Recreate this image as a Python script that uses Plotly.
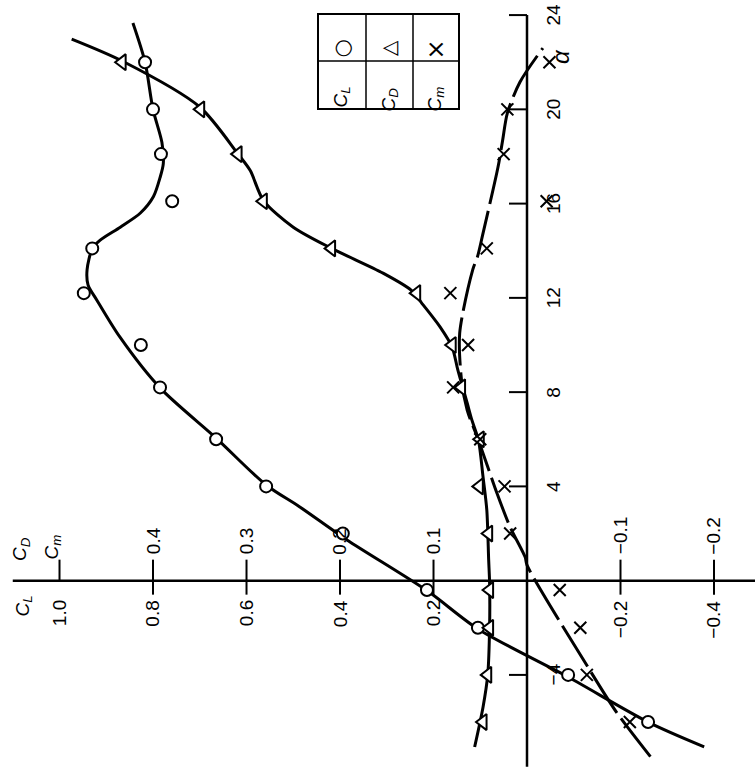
import plotly.graph_objects as go

# Measured points: angle of attack (deg) and coefficients
alpha = [-6, -4, -2, -0.4, 2, 4, 6, 8.2, 10, 12.2, 14.1, 16.1, 18.1, 20, 22]
cl = [-0.259, -0.088, 0.105, 0.214, 0.394, 0.558, 0.665, 0.785, 0.826, 0.948,
      0.930, 0.759, 0.783, 0.800, 0.817]
cd = [0.047, 0.042, 0.040, 0.040, 0.041, 0.051, 0.050, 0.070, 0.080, 0.118,
      0.209, 0.282, 0.309, 0.349, 0.433]
cm = [-0.110, -0.064, -0.057, -0.035, 0.018, 0.024, 0.050, 0.079, 0.063, 0.082,
      0.043, -0.021, 0.025, 0.021, -0.024]

# Faired curves
cl_fit_alpha = [-7.05, -6.0, -4.09, -2.05, -0.42, 1.73, 3.13, 4.06, 6.05, 8.18,
                10.34, 11.9, 12.55, 13.2, 14.08, 14.45, 15.0, 15.6, 16.3, 17.1,
                17.7, 18.6, 20.0, 22.0, 23.66]
cl_fit = [-0.379, -0.259, -0.088, 0.105, 0.214, 0.385, 0.486, 0.558, 0.665, 0.785,
          0.871, 0.920, 0.939, 0.941, 0.930, 0.913, 0.870, 0.827, 0.799, 0.785,
          0.778, 0.781, 0.800, 0.817, 0.843]

cd_fit_alpha = [-7.06, -5.36, -4.0, -1.97, -0.1, 0.88, 3.0, 4.4, 5.97, 6.82, 7.54,
                8.94, 9.9, 10.77, 11.8, 12.33, 13.05, 14.1, 15.0, 16.14, 17.4,
                18.1, 20.1, 22.05, 22.98]
cd_fit = [0.056, 0.047, 0.042, 0.040, 0.040, 0.041, 0.043, 0.047, 0.052, 0.059,
          0.064, 0.074, 0.080, 0.093, 0.113, 0.124, 0.154, 0.209, 0.250, 0.282,
          0.296, 0.309, 0.350, 0.433, 0.487]

cm_fit_alpha = [-7.47, -5.6, -3.66, 0.66, 1.0, 2.27, 3.7, 5.97, 7.24, 8.5, 10.5,
                13.2, 13.74, 14.75, 17.55, 18.7, 19.84, 21.16, 22.6]
cm_fit = [-0.132, -0.096, -0.065, 0.0, 0.002, 0.018, 0.032, 0.052, 0.064, 0.070,
          0.072, 0.058, 0.053, 0.047, 0.031, 0.026, 0.021, 0.0075, -0.017]

# Tick values
alpha_ticks = [-4, 4, 8, 12, 16, 20, 24]
alpha_labels = ["\u22124", "4", "8", "12", "16", "20", "24"]
cl_ticks = [1.0, 0.8, 0.6, 0.4, 0.2, -0.2, -0.4]
cl_labels = ["1.0", "0.8", "0.6", "0.4", "0.2", "\u22120.2", "\u22120.4"]
cdm_ticks = [0.4, 0.3, 0.2, 0.1, -0.1, -0.2]
cdm_labels = ["0.4", "0.3", "0.2", "0.1", "\u22120.1", "\u22120.2"]

W, H = 755, 772
FONT = "Liberation Sans"
INK = "black"

# Axis ranges (figure is drawn turned a quarter turn: alpha runs upward,
# coefficients increase to the left)
cl_range = [1.1273, -0.4877]
cdm_range = [cl_range[0] / 2, cl_range[1] / 2]
alpha_range = [-8.12, 24.64]

fig = go.Figure()

line_style = dict(color=INK, width=3, shape="spline", smoothing=0.8)
fig.add_trace(go.Scatter(x=cl_fit, y=cl_fit_alpha, mode="lines", line=line_style,
                         xaxis="x", yaxis="y", hoverinfo="skip"))
fig.add_trace(go.Scatter(x=cd_fit, y=cd_fit_alpha, mode="lines", line=line_style,
                         xaxis="x2", yaxis="y", hoverinfo="skip"))
fig.add_trace(go.Scatter(x=cm_fit, y=cm_fit_alpha, mode="lines",
                         line=dict(color=INK, width=3, shape="spline", smoothing=0.8,
                                   dash="48px,7px"),
                         xaxis="x2", yaxis="y", hoverinfo="skip"))

fig.add_trace(go.Scatter(x=cl, y=alpha, mode="markers", name="CL",
                         marker=dict(symbol="circle", size=12, color="white",
                                     line=dict(color=INK, width=2)),
                         xaxis="x", yaxis="y"))
fig.add_trace(go.Scatter(x=cd, y=alpha, mode="markers", name="CD",
                         marker=dict(symbol="triangle-left", size=14, color="white",
                                     line=dict(color=INK, width=2)),
                         xaxis="x2", yaxis="y"))
fig.add_trace(go.Scatter(x=cm, y=alpha, mode="markers", name="Cm",
                         marker=dict(symbol="x-thin", size=12, color=INK,
                                     line=dict(color=INK, width=2)),
                         xaxis="x2", yaxis="y"))

shapes = []
# axis lines
shapes.append(dict(type="line", xref="x", yref="y", x0=0, x1=0, y0=-7.9, y1=24,
                   line=dict(color=INK, width=2.5)))
shapes.append(dict(type="line", xref="x", yref="y", x0=1.10, x1=cl_range[1], y0=0, y1=0,
                   line=dict(color=INK, width=2.5)))
# alpha ticks (to the left of the axis)
for a in alpha_ticks:
    shapes.append(dict(type="line", xref="x", yref="y", xsizemode="pixel", xanchor=0,
                       x0=-18, x1=0, y0=a, y1=a, line=dict(color=INK, width=2)))
# coefficient ticks
for v in cl_ticks:
    lower = 0 if v == 1.0 else -14
    shapes.append(dict(type="line", xref="x", yref="y", ysizemode="pixel", yanchor=0,
                       x0=v, x1=v, y0=lower, y1=21, line=dict(color=INK, width=2)))


# legend table
def px(x):
    return x / W


def py(y):
    return 1 - y / H


lx = [318, 366, 413, 459]
ly = [14, 61, 109]
shapes.append(dict(type="rect", xref="paper", yref="paper", x0=px(lx[0]), x1=px(lx[3]),
                   y0=py(ly[0]), y1=py(ly[2]), line=dict(color=INK, width=2)))
for xv in lx[1:3]:
    shapes.append(dict(type="line", xref="paper", yref="paper", x0=px(xv), x1=px(xv),
                       y0=py(ly[0]), y1=py(ly[2]), line=dict(color=INK, width=1.5)))
shapes.append(dict(type="line", xref="paper", yref="paper", x0=px(lx[0]), x1=px(lx[3]),
                   y0=py(ly[1]), y1=py(ly[1]), line=dict(color=INK, width=1.5)))

annotations = []
tick_font = dict(family=FONT, size=19, color=INK)
for v, t in zip(cl_ticks, cl_labels):
    annotations.append(dict(x=v, y=0, xref="x", yref="y", text=t, showarrow=False,
                            textangle=-90, xanchor="center", yanchor="top", yshift=-18,
                            font=tick_font))
for v, t in zip(cdm_ticks, cdm_labels):
    annotations.append(dict(x=v, y=0, xref="x2", yref="y", text=t, showarrow=False,
                            textangle=-90, xanchor="center", yanchor="bottom", yshift=24,
                            font=tick_font))
for a, t in zip(alpha_ticks, alpha_labels):
    annotations.append(dict(x=0, y=a, xref="x", yref="y", text=t, showarrow=False,
                            textangle=-90, xanchor="left", yanchor="middle", xshift=14,
                            font=tick_font))

title_font = dict(family=FONT, size=19, color=INK)
annotations += [
    dict(x=px(576), y=py(47), xref="paper", yref="paper", text="<i>\u03b1</i>",
         showarrow=False, textangle=-90, font=dict(family=FONT, size=24, color=INK)),
    dict(x=px(9), y=py(619), xref="paper", yref="paper", text="<i>C<sub>L</sub></i>",
         showarrow=False, textangle=-90, font=title_font),
    dict(x=px(7), y=py(563), xref="paper", yref="paper", text="<i>C<sub>D</sub></i>",
         showarrow=False, textangle=-90, font=title_font),
    dict(x=px(38), y=py(562), xref="paper", yref="paper", text="<i>C<sub>m</sub></i>",
         showarrow=False, textangle=-90, font=title_font),
]

# legend table contents
leg_syms = ["\u25cb", "\u25b3", "\u00d7"]
leg_sym_sizes = [21, 20, 24]
leg_names = ["<i>C<sub>L</sub></i>", "<i>C<sub>D</sub></i>", "<i>C<sub>m</sub></i>"]
for i in range(3):
    cx = (lx[i] + lx[i + 1]) / 2
    annotations.append(dict(x=px(cx), y=py((ly[0] + ly[1]) / 2), xref="paper", yref="paper",
                            text=leg_syms[i], showarrow=False, textangle=-90,
                            font=dict(family="DejaVu Sans", size=leg_sym_sizes[i],
                                      color=INK)))
    annotations.append(dict(x=px(cx), y=py((ly[1] + ly[2]) / 2), xref="paper", yref="paper",
                            text=leg_names[i], showarrow=False, textangle=-90,
                            font=dict(family=FONT, size=19, color=INK)))

fig.update_layout(
    width=W, height=H, autosize=False,
    margin=dict(l=0, r=0, t=0, b=0, pad=0),
    paper_bgcolor="white", plot_bgcolor="white",
    showlegend=False,
    xaxis=dict(range=cl_range, visible=False, domain=[0, 1]),
    xaxis2=dict(range=cdm_range, visible=False, overlaying="x", anchor="y"),
    yaxis=dict(range=alpha_range, visible=False, domain=[0, 1]),
    shapes=shapes,
    annotations=annotations,
)

fig.write_html("out.html")
